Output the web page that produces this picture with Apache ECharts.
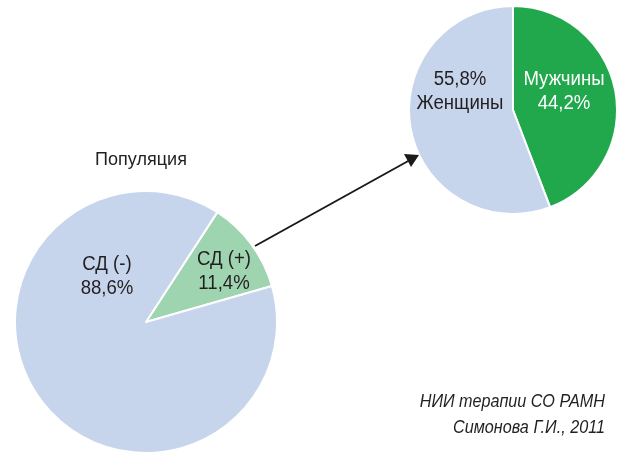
<!DOCTYPE html>
<html>
<head>
<meta charset="utf-8">
<script src="https://cdn.jsdelivr.net/npm/echarts@6/dist/echarts.min.js"></script>
<style>
    html, body {margin: 0; padding: 0; background: #fff;}
    #chart {width: 627px; height: 455px;}
</style>
</head>
<body>
<div id="chart"></div>
<script>
// данные: популяция
var popNames = ["СД (+)", "СД (-)"];
var popValues = [11.4, 88.6];
// данные: пол среди СД (+)
var sexNames = ["Мужчины", "Женщины"];
var sexValues = [44.2, 55.8];

var FONT = "'Liberation Sans Narrow', 'Arial Narrow', 'Liberation Sans', sans-serif";
var popColors = ["#9fd4b1", "#c6d5ec"];
var sexColors = ["#22a84c", "#c6d5ec"];

function pct (v) {
    return v.toFixed(1).replace(".", ",") + "%";
}

//подпись внутри сектора
function sliceText (x, y, text, color) {
    return {
        type: "text", x: x, y: y, z: 100, scaleX: 0.93,
        style: {text: text, font: "20px " + FONT, fill: color,
            align: "center", verticalAlign: "middle", lineHeight: 24}
    };
}

var myChart = echarts.init(document.getElementById("chart"));

var option = {
    backgroundColor: "#fff",
    animation: false,
    series: [{
        type: "pie",
        center: [146, 322],
        radius: [0, 131],
        startAngle: 57,
        clockwise: true,
        label: {show: false},
        labelLine: {show: false},
        itemStyle: {borderColor: "#fff", borderWidth: 2},
        data: popNames.map(function (n, i) {
            return {name: n, value: popValues[i], itemStyle: {color: popColors[i]}};
        })
    }, {
        type: "pie",
        center: [513, 110],
        radius: [0, 104],
        startAngle: 90,
        clockwise: true,
        label: {show: false},
        labelLine: {show: false},
        itemStyle: {borderColor: "#fff", borderWidth: 2},
        data: sexNames.map(function (n, i) {
            return {name: n, value: sexValues[i], itemStyle: {color: sexColors[i]}};
        })
    }],
    graphic: [
        //стрелка
        {
            type: "line", z: 100,
            shape: {x1: 255, y1: 246, x2: 410, y2: 160},
            style: {stroke: "#1a1a1a", lineWidth: 2}
        },
        {
            type: "polygon", z: 100,
            shape: {points: [[419, 155], [404, 154], [411, 167]]},
            style: {fill: "#1a1a1a"}
        },
        {
            type: "text", x: 95, y: 160, z: 100, scaleX: 0.95,
            style: {text: "Популяция", font: "19px " + FONT, fill: "#231f20", verticalAlign: "middle"}
        },
        sliceText(107, 276, popNames[1] + "\n" + pct(popValues[1]), "#231f20"),
        sliceText(224, 271, popNames[0] + "\n" + pct(popValues[0]), "#231f20"),
        sliceText(460, 91, pct(sexValues[1]) + "\n" + sexNames[1], "#231f20"),
        sliceText(564, 91, sexNames[0] + "\n" + pct(sexValues[0]), "#fff"),
        {
            type: "text", x: 605, y: 402, z: 100, scaleX: 0.9,
            style: {text: "НИИ терапии СО РАМН", font: "italic 18px " + FONT, fill: "#231f20",
                align: "right", verticalAlign: "middle"}
        },
        {
            type: "text", x: 605, y: 428, z: 100, scaleX: 0.9,
            style: {text: "Симонова Г.И., 2011", font: "italic 18px " + FONT, fill: "#231f20",
                align: "right", verticalAlign: "middle"}
        }
    ]
};

myChart.setOption(option);
</script>
</body>
</html>
